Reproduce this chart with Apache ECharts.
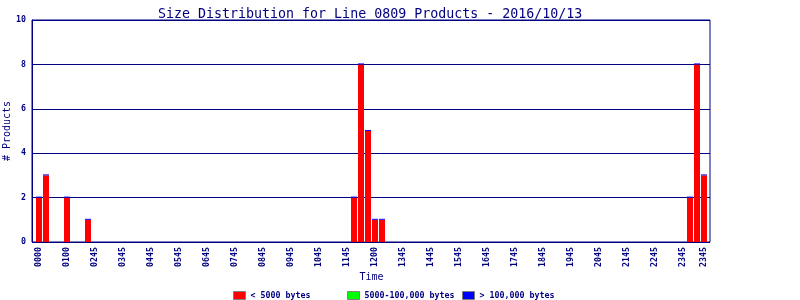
<!DOCTYPE html>
<html>
<head>
<meta charset="utf-8">
<script src="https://cdn.jsdelivr.net/npm/echarts@6/dist/echarts.min.js"></script>
<style>html,body{margin:0;padding:0;background:#fff}#c{width:800px;height:300px}</style>
</head>
<body>
<div id="c"></div>
<script>
// ---- data ----
const titleText = 'Size Distribution for Line 0809 Products - 2016/10/13';
const slotCount = 96;
const tickIndex = [0,4,8,12,16,20,24,28,32,36,40,44,48,52,56,60,64,68,72,76,80,84,88,92,95];
const tickLabels = ['0000','0100','0245','0345','0445','0545','0645','0745','0845','0945','1045','1145','1200','1345','1445','1545','1645','1745','1845','1945','2045','2145','2245','2345','2345'];
const barSlots = [0,1,4,7,45,46,47,48,49,93,94,95];
const smallCounts = [2,3,2,1,2,8,5,1,1,2,8,3];      // < 5000 bytes
const mediumCounts = [0,0,0,0,0,0,0,0,0,0,0,0];     // 5000-100,000 bytes
const largeCounts = [0,0,0,0,0,0,0,0,0,0,0,0];      // > 100,000 bytes
const seriesNames = ['< 5000 bytes','5000-100,000 bytes','> 100,000 bytes'];

// ---- build ----
const categories = [];
for (let i = 0; i < slotCount; i++) categories.push('s' + i);
function fill(vals, keepZero) {
  const arr = new Array(slotCount).fill('-');
  barSlots.forEach((s, k) => { if (vals[k] > 0 || keepZero) arr[s] = vals[k]; });
  return arr;
}
const labelMap = {};
tickIndex.forEach((ix, k) => labelMap[ix] = tickLabels[k]);

const NAVY = '#000080';
const MONO = '"DejaVu Sans Mono", "Liberation Mono", monospace';

const chart = echarts.init(document.getElementById('c'), null, {renderer: 'canvas'});
const legendCommon = {
  top: 291, itemWidth: 12, itemHeight: 8, icon: 'rect',
  itemStyle: {borderColor: '#808080', borderWidth: 1},
  textStyle: {color: NAVY, fontFamily: MONO, fontSize: 8.3, fontWeight: 'bold'},
  selectedMode: false, padding: 0
};
chart.setOption({
  animation: false,
  backgroundColor: '#fff',
  title: {
    text: titleText, left: 153, top: 3,
    textStyle: {color: NAVY, fontFamily: MONO, fontSize: 13.3, fontWeight: 'normal'}
  },
  legend: [
    Object.assign({}, legendCommon, {left: 233, data: [seriesNames[0]]}),
    Object.assign({}, legendCommon, {left: 347, data: [seriesNames[1]]}),
    Object.assign({}, legendCommon, {left: 462, data: [seriesNames[2]]})
  ],
  grid: [
    {left: 32, right: 90, top: 20, bottom: 58, show: true, borderColor: NAVY, borderWidth: 1,
     backgroundColor: 'transparent', containLabel: false, outerBoundsMode: 'none'},
    {left: 35.5, width: 672, top: 20, bottom: 58, containLabel: false, outerBoundsMode: 'none'}
  ],
  xAxis: [
    {gridIndex: 0, type: 'value', min: 0, max: 1, show: false},
    {
      gridIndex: 1, type: 'category', data: categories, boundaryGap: true,
      name: 'Time', nameLocation: 'middle', nameGap: 30, nameMoveOverlap: false,
      nameTextStyle: {color: NAVY, fontFamily: MONO, fontSize: 10},
      axisLine: {show: false}, axisTick: {show: false},
      axisLabel: {
        rotate: 90, margin: 5, color: NAVY, fontFamily: MONO, fontSize: 8.3, fontWeight: 'bold',
        interval: (idx) => labelMap[idx] !== undefined,
        formatter: (v, idx) => labelMap[idx] !== undefined ? labelMap[idx] : ''
      }
    }
  ],
  yAxis: [
    {
      gridIndex: 0, type: 'value', min: 0, max: 10, interval: 2,
      name: '# Products', nameLocation: 'middle', nameGap: 20, nameRotate: 90, nameMoveOverlap: false,
      nameTextStyle: {color: NAVY, fontFamily: MONO, fontSize: 10},
      axisLine: {show: true, lineStyle: {color: NAVY, width: 1}},
      axisTick: {show: false},
      splitLine: {show: true, lineStyle: {color: NAVY, width: 1}},
      axisLabel: {margin: 6, color: NAVY, fontFamily: MONO, fontSize: 8.3, fontWeight: 'bold'}
    },
    {gridIndex: 1, type: 'value', min: 0, max: 10, show: false}
  ],
  series: [
    {name: seriesNames[0], type: 'bar', stack: 's', xAxisIndex: 1, yAxisIndex: 1, barWidth: 6,
     itemStyle: {color: '#ff0000'}, data: fill(smallCounts, false)},
    {name: seriesNames[1], type: 'bar', stack: 's', xAxisIndex: 1, yAxisIndex: 1, barWidth: 6,
     itemStyle: {color: '#00ff00'}, data: fill(mediumCounts, false)},
    {name: seriesNames[2], type: 'bar', stack: 's', xAxisIndex: 1, yAxisIndex: 1, barWidth: 6,
     barMinHeight: 1, itemStyle: {color: '#0000ff'}, data: fill(largeCounts, true)}
  ]
});
</script>
</body>
</html>
